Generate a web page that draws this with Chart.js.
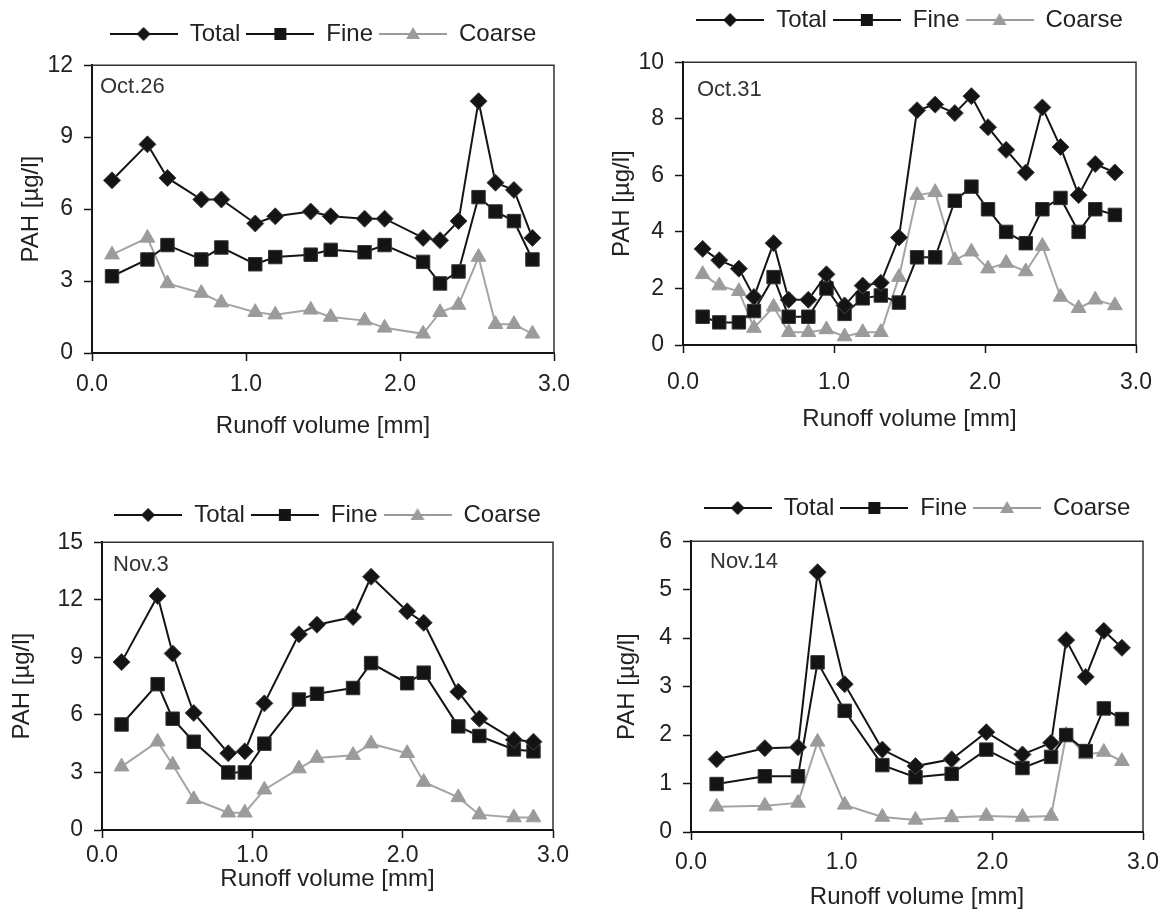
<!DOCTYPE html>
<html>
<head>
<meta charset="utf-8">
<title>PAH runoff</title>
<script src="https://cdn.jsdelivr.net/npm/chart.js@4/dist/chart.umd.min.js"></script>
<style>
  html, body { margin: 0; padding: 0; background: #fff; overflow: hidden; }
  #wrap { position: relative; width: 1168px; height: 913px; }
  #wrap canvas { position: absolute; }
</style>
</head>
<body>
<div id="wrap">
  <canvas id="c1" width="584" height="456" style="left:0;top:0"></canvas>
  <canvas id="c2" width="584" height="456" style="left:584px;top:0"></canvas>
  <canvas id="c3" width="584" height="457" style="left:0;top:456px"></canvas>
  <canvas id="c4" width="584" height="457" style="left:584px;top:456px"></canvas>
</div>
<script>
'use strict';

// --- data (runoff volume in mm, PAH in ug/l) ---
const seriesNames = ['Total', 'Fine', 'Coarse'];
const xTicks = [0, 1, 2, 3];

const oct26X = [0.13, 0.36, 0.49, 0.71, 0.84, 1.06, 1.19, 1.42, 1.55, 1.77, 1.90, 2.15, 2.26, 2.38, 2.51, 2.62, 2.74, 2.86];
const oct26Total = [7.2, 8.7, 7.3, 6.4, 6.4, 5.4, 5.7, 5.9, 5.7, 5.6, 5.6, 4.8, 4.7, 5.5, 10.5, 7.1, 6.8, 4.8];
const oct26Fine = [3.2, 3.9, 4.5, 3.9, 4.4, 3.7, 4.0, 4.1, 4.3, 4.2, 4.5, 3.8, 2.9, 3.4, 6.5, 5.9, 5.5, 3.9];
const oct26Coarse = [4.1, 4.8, 2.9, 2.5, 2.1, 1.7, 1.6, 1.8, 1.5, 1.35, 1.05, 0.8, 1.7, 2.0, 4.0, 1.2, 1.2, 0.8];
const oct26Ticks = [0, 3, 6, 9, 12];

const oct31X = [0.13, 0.24, 0.37, 0.47, 0.60, 0.70, 0.83, 0.95, 1.07, 1.19, 1.31, 1.43, 1.55, 1.67, 1.80, 1.91, 2.02, 2.14, 2.27, 2.38, 2.50, 2.62, 2.73, 2.86];
const oct31Total = [3.4, 3.0, 2.7, 1.7, 3.6, 1.6, 1.6, 2.5, 1.4, 2.1, 2.2, 3.8, 8.3, 8.5, 8.2, 8.8, 7.7, 6.9, 6.1, 8.4, 7.0, 5.3, 6.4, 6.1];
const oct31Fine = [1.0, 0.8, 0.8, 1.2, 2.4, 1.0, 1.0, 2.0, 1.1, 1.65, 1.75, 1.5, 3.1, 3.1, 5.1, 5.6, 4.8, 4.0, 3.6, 4.8, 5.2, 4.0, 4.8, 4.6];
const oct31Coarse = [2.5, 2.1, 1.9, 0.6, 1.35, 0.45, 0.45, 0.55, 0.3, 0.45, 0.45, 2.4, 5.3, 5.4, 3.0, 3.3, 2.7, 2.9, 2.6, 3.5, 1.7, 1.3, 1.6, 1.4];
const oct31Ticks = [0, 2, 4, 6, 8, 10];

const nov3X = [0.13, 0.37, 0.47, 0.61, 0.84, 0.95, 1.08, 1.31, 1.43, 1.67, 1.79, 2.03, 2.14, 2.37, 2.51, 2.74, 2.87];
const nov3Total = [8.75, 12.2, 9.2, 6.1, 4.0, 4.1, 6.6, 10.2, 10.7, 11.1, 13.2, 11.4, 10.8, 7.2, 5.8, 4.7, 4.6];
const nov3Fine = [5.5, 7.6, 5.8, 4.6, 3.0, 3.0, 4.5, 6.8, 7.1, 7.4, 8.7, 7.65, 8.2, 5.4, 4.9, 4.2, 4.1];
const nov3Coarse = [3.3, 4.6, 3.4, 1.6, 0.9, 0.9, 2.1, 3.2, 3.75, 3.9, 4.5, 4.0, 2.5, 1.7, 0.8, 0.65, 0.65];
const nov3Ticks = [0, 3, 6, 9, 12, 15];

const nov14X = [0.17, 0.49, 0.71, 0.84, 1.02, 1.27, 1.49, 1.73, 1.96, 2.20, 2.39, 2.49, 2.62, 2.74, 2.86];
const nov14Total = [1.5, 1.73, 1.75, 5.36, 3.05, 1.7, 1.36, 1.5, 2.06, 1.6, 1.84, 3.96, 3.2, 4.15, 3.8];
const nov14Fine = [0.99, 1.15, 1.15, 3.5, 2.5, 1.38, 1.13, 1.2, 1.7, 1.32, 1.55, 2.0, 1.67, 2.55, 2.33];
const nov14Coarse = [0.52, 0.54, 0.6, 1.86, 0.56, 0.31, 0.25, 0.3, 0.33, 0.31, 0.33, 2.0, 1.6, 1.65, 1.46];
const nov14Ticks = [0, 1, 2, 3, 4, 5, 6];

// --- look ---
const FONT = '"Liberation Sans", Arial, Helvetica, sans-serif';
const INK = '#141414';
const GREY = '#9b9b9b';
Chart.defaults.font.family = FONT;
Chart.defaults.color = '#222';

// box outline on top/right plus the date tag inside the plot
const framePlugin = {
  id: 'frame',
  afterDraw(chart, args, opts) {
    const { ctx, chartArea: a } = chart;
    ctx.save();
    ctx.strokeStyle = '#333';
    ctx.lineWidth = 1.5;
    ctx.beginPath();
    ctx.moveTo(a.left, a.top);
    ctx.lineTo(a.right, a.top);
    ctx.lineTo(a.right, a.bottom);
    ctx.stroke();
    ctx.font = '22px ' + FONT;
    ctx.fillStyle = '#333';
    ctx.textBaseline = 'middle';
    ctx.fillText(opts.text, a.left + opts.dx, a.top + opts.dy);
    ctx.restore();
  }
};

// legend glyph: line with the marker in the middle
function legendIcon(kind, color) {
  const c = document.createElement('canvas');
  c.width = 68;
  c.height = 20;
  const g = c.getContext('2d');
  g.strokeStyle = color;
  g.fillStyle = color;
  g.lineWidth = 2;
  g.beginPath();
  g.moveTo(0, 10);
  g.lineTo(68, 10);
  g.stroke();
  g.beginPath();
  if (kind === 'diamond') {
    g.moveTo(34, 3); g.lineTo(41, 10); g.lineTo(34, 17); g.lineTo(27, 10);
  } else if (kind === 'square') {
    g.rect(28, 4, 12, 12);
  } else {
    g.moveTo(34, 3); g.lineTo(41, 15); g.lineTo(27, 15);
  }
  g.closePath();
  g.fill();
  return c;
}
const legendIcons = [legendIcon('diamond', INK), legendIcon('square', INK), legendIcon('triangle', GREY)];

function makeDatasets(xs, total, fine, coarse) {
  const pts = ys => xs.map((x, i) => ({ x, y: ys[i] }));
  return [
    {
      label: seriesNames[0], data: pts(total),
      borderColor: INK, borderWidth: 2,
      pointStyle: 'rectRot', pointRadius: 8.5,
      pointBackgroundColor: INK, pointBorderColor: '#444', pointBorderWidth: 1
    },
    {
      label: seriesNames[1], data: pts(fine),
      borderColor: INK, borderWidth: 2,
      pointStyle: 'rect', pointRadius: 9.5,
      pointBackgroundColor: INK, pointBorderColor: '#333', pointBorderWidth: 1
    },
    {
      label: seriesNames[2], data: pts(coarse),
      borderColor: '#a4a4a4', borderWidth: 2,
      pointStyle: 'triangle', pointRadius: 8.5,
      pointBackgroundColor: GREY, pointBorderColor: GREY, pointBorderWidth: 1
    }
  ];
}

function makeChart(id, datasets, yTicks, p) {
  const axisGrid = { drawOnChartArea: false, drawTicks: true, tickLength: 8, tickColor: INK, tickWidth: 1.5 };
  return new Chart(document.getElementById(id), {
    type: 'line',
    data: { datasets },
    plugins: [framePlugin],
    options: {
      responsive: false,
      animation: false,
      layout: { padding: { left: 0, right: p.padR, top: p.padT, bottom: p.padB } },
      plugins: {
        tooltip: { enabled: false },
        legend: {
          position: 'top',
          fullSize: false,
          weight: 3000,
          labels: {
            usePointStyle: true,
            pointStyleWidth: 68,
            padding: 6,
            color: '#222',
            font: { size: 24 },
            generateLabels(chart) {
              const items = Chart.defaults.plugins.legend.labels.generateLabels(chart);
              return items.map((it, i) => ({ ...it, pointStyle: legendIcons[i] }));
            }
          }
        },
        // empty title only keeps the gap between legend and plot
        title: { display: true, text: '', font: { size: 1 }, padding: { top: 0, bottom: p.gap } },
        frame: { text: p.tag, dx: p.tagX, dy: p.tagY }
      },
      scales: {
        x: {
          type: 'linear',
          min: 0, max: 3,
          afterBuildTicks: s => { s.ticks = xTicks.map(v => ({ value: v })); },
          afterFit: s => { s.height = p.xH; },
          border: { color: INK, width: 2 },
          grid: axisGrid,
          ticks: { padding: p.xPad, font: { size: 23 }, color: '#222', callback: v => Number(v).toFixed(1) },
          title: { display: true, text: 'Runoff volume [mm]', font: { size: 24 }, color: '#222', padding: { top: 0, bottom: 0 } }
        },
        y: {
          min: 0, max: yTicks[yTicks.length - 1],
          afterBuildTicks: s => { s.ticks = yTicks.map(v => ({ value: v })); },
          afterFit: s => { s.width = p.yW; },
          border: { color: INK, width: 2 },
          grid: axisGrid,
          ticks: { padding: 11, font: { size: 23 }, color: '#222' },
          title: { display: true, text: 'PAH [µg/l]', font: { size: 24 }, color: '#222', padding: { top: p.yTitle, bottom: 0 } }
        }
      }
    }
  });
}

makeChart('c1', makeDatasets(oct26X, oct26Total, oct26Fine, oct26Coarse), oct26Ticks,
  { padR: 30, padT: 16, padB: 15, gap: 8, xH: 88, xPad: 10, yW: 92, yTitle: 17, tag: 'Oct.26', tagX: 8, tagY: 22 });
makeChart('c2', makeDatasets(oct31X, oct31Total, oct31Fine, oct31Coarse), oct31Ticks,
  { padR: 29, padT: 2, padB: 22, gap: 19, xH: 89, xPad: 16, yW: 99, yTitle: 24, tag: 'Oct.31', tagX: 14, tagY: 28 });
makeChart('c3', makeDatasets(nov3X, nov3Total, nov3Fine, nov3Coarse), nov3Ticks,
  { padR: 31, padT: 41, padB: 19, gap: 4, xH: 64, xPad: 4, yW: 102, yTitle: 8, tag: 'Nov.3', tagX: 11, tagY: 23 });
makeChart('c4', makeDatasets(nov14X, nov14Total, nov14Fine, nov14Coarse), nov14Ticks,
  { padR: 22, padT: 34, padB: 1, gap: 10, xH: 80, xPad: 9, yW: 107, yTitle: 29, tag: 'Nov.14', tagX: 19, tagY: 21 });
</script>
</body>
</html>
